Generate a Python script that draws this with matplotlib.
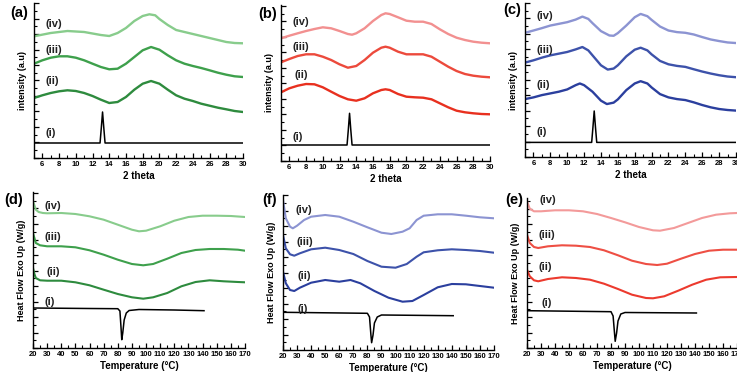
import matplotlib
matplotlib.use("Agg")
import matplotlib.pyplot as plt
from matplotlib.ticker import MultipleLocator

plt.rcParams['font.family'] = ['Liberation Sans', 'DejaVu Sans']
plt.rcParams['font.weight'] = 'bold'

# ---- XRD (a) ----
a_i_x = [5, 12.9, 13.05, 13.2, 13.35, 13.5, 30]
a_i_y = [1.5, 1.5, 3.0, 4.6, 3.0, 1.5, 1.5]
a_ii_x = [5, 6, 7, 8, 9, 10, 11, 12, 13, 14, 15, 16, 17, 18, 19, 20, 21, 22, 23, 24, 25, 26, 27, 28, 29, 30]
a_ii_y = [6.0, 6.27, 6.5, 6.67, 6.77, 6.7, 6.5, 6.2, 5.83, 5.5, 5.6, 6.1, 6.83, 7.43, 7.7, 7.43, 6.83, 6.27, 5.93, 5.7, 5.43, 5.23, 5.03, 4.87, 4.7, 4.6]
a_iii_x = [5, 6, 7, 8, 9, 10, 11, 12, 13, 14, 15, 16, 17, 18, 19, 20, 21, 22, 23, 24, 25, 26, 27, 28, 29, 30]
a_iii_y = [9.43, 9.77, 10.03, 10.17, 10.17, 10.03, 9.77, 9.43, 9.1, 8.87, 8.93, 9.43, 10.1, 10.77, 11.1, 10.83, 10.27, 9.77, 9.43, 9.2, 9.0, 8.77, 8.53, 8.33, 8.17, 8.1]
a_iv_x = [5, 7, 9, 11, 13, 14, 15, 16, 17, 18, 18.8, 19.5, 20, 21, 22, 23, 24, 25, 26, 27, 28, 29, 30]
a_iv_y = [12.17, 12.5, 12.7, 12.6, 12.3, 12.2, 12.5, 13.0, 13.7, 14.2, 14.37, 14.27, 13.9, 13.3, 12.8, 12.6, 12.4, 12.2, 12.0, 11.8, 11.6, 11.5, 11.47]

# ---- XRD (b) ----
b_i_x = [5, 12.9, 13.05, 13.2, 13.35, 13.5, 30]
b_i_y = [1.6, 1.6, 3.1, 4.77, 3.1, 1.6, 1.6]
b_ii_x = [5, 6, 7, 8, 9, 10, 11, 12, 13, 14, 15, 16, 17, 17.5, 18, 19, 20, 21, 22, 23, 24, 25, 26, 27, 28, 29, 30]
b_ii_y = [6.87, 7.27, 7.53, 7.7, 7.67, 7.37, 6.93, 6.5, 6.17, 6.03, 6.27, 6.77, 7.1, 7.17, 7.1, 6.7, 6.43, 6.37, 6.33, 6.17, 5.77, 5.37, 5.03, 4.87, 4.77, 4.7, 4.67]
b_iii_x = [5, 6, 7, 8, 9, 10, 11, 12, 13, 14, 15, 16, 17, 17.5, 18, 19, 20, 21, 22, 23, 24, 25, 26, 27, 28, 29, 30]
b_iii_y = [9.87, 10.2, 10.5, 10.67, 10.67, 10.43, 10.1, 9.67, 9.33, 9.5, 10.1, 10.83, 11.33, 11.43, 11.33, 10.93, 10.67, 10.67, 10.67, 10.43, 9.93, 9.43, 9.0, 8.7, 8.53, 8.43, 8.37]
b_iv_x = [5, 6, 7, 8, 9, 10, 11, 12, 13, 13.5, 14, 15, 16, 17, 17.5, 18, 19, 20, 21, 22, 23, 24, 25, 26, 27, 28, 29, 30]
b_iv_y = [12.27, 12.53, 12.77, 13.0, 13.2, 13.37, 13.27, 13.0, 12.7, 12.63, 12.77, 13.27, 14.0, 14.6, 14.77, 14.7, 14.37, 14.03, 13.93, 13.93, 13.7, 13.17, 12.7, 12.33, 12.1, 11.93, 11.83, 11.77]

# ---- XRD (c) ----
c_i_x = [5, 12.9, 13.05, 13.2, 13.35, 13.5, 30]
c_i_y = [1.47, 1.47, 3.0, 4.63, 3.0, 1.47, 1.47]
c_ii_x = [5, 6, 7, 8, 9, 10, 11, 11.5, 12, 13, 14, 14.7, 15.5, 16, 17, 18, 18.7, 19.5, 20, 21, 22, 23, 24, 25, 26, 27, 28, 29, 30]
c_ii_y = [5.83, 6.0, 6.23, 6.4, 6.57, 6.8, 7.23, 7.4, 7.23, 6.57, 5.67, 5.33, 5.47, 5.8, 6.73, 7.4, 7.63, 7.4, 7.0, 6.33, 6.0, 5.83, 5.73, 5.5, 5.23, 5.0, 4.83, 4.73, 4.67]
c_iii_x = [5, 6, 7, 8, 9, 10, 11, 11.8, 12.5, 13, 14, 14.8, 15.5, 16, 17, 18, 18.7, 19.5, 20, 21, 22, 23, 24, 25, 26, 27, 28, 29, 30]
c_iii_y = [9.5, 9.73, 10.0, 10.23, 10.4, 10.57, 10.83, 11.07, 10.73, 10.23, 9.23, 8.8, 8.9, 9.23, 10.13, 10.8, 11.0, 10.73, 10.33, 9.67, 9.33, 9.17, 9.07, 8.83, 8.6, 8.4, 8.23, 8.1, 8.03]
c_iv_x = [5, 6, 7, 8, 9, 10, 11, 11.8, 12.5, 13, 14, 15, 15.5, 16, 17, 18, 18.7, 19.5, 20, 21, 22, 23, 24, 25, 26, 27, 28, 29, 30]
c_iv_y = [12.5, 12.73, 12.97, 13.23, 13.4, 13.57, 13.83, 14.13, 13.9, 13.47, 12.67, 12.23, 12.2, 12.47, 13.23, 14.07, 14.4, 14.17, 13.8, 13.13, 12.73, 12.57, 12.5, 12.33, 12.07, 11.83, 11.67, 11.53, 11.47]

# ---- DSC (d) ----
d_i_x = [20, 60, 80, 81.5, 82.3, 82.8, 83.5, 84.5, 86, 88, 95, 120, 141]
d_i_y = [4.0, 3.95, 3.93, 3.7, 2.0, 0.83, 1.5, 2.8, 3.5, 3.75, 3.85, 3.8, 3.73]
d_ii_x = [20, 21, 22, 25, 30, 40, 50, 60, 70, 80, 90, 98, 105, 115, 125, 135, 145, 155, 165, 170]
d_ii_y = [8.0, 7.4, 7.0, 6.77, 6.73, 6.73, 6.57, 6.27, 5.83, 5.4, 5.07, 4.93, 5.07, 5.5, 6.17, 6.6, 6.77, 6.67, 6.6, 6.57]
d_iii_x = [20, 21, 22, 25, 30, 40, 50, 60, 70, 80, 90, 98, 105, 115, 125, 135, 145, 155, 165, 170]
d_iii_y = [11.5, 11.0, 10.5, 10.27, 10.17, 10.17, 10.07, 9.77, 9.33, 8.83, 8.4, 8.27, 8.4, 8.93, 9.5, 9.8, 9.9, 9.9, 9.83, 9.73]
d_iv_x = [20, 21, 22, 24, 27, 30, 40, 50, 60, 70, 80, 90, 95, 100, 110, 120, 130, 140, 150, 160, 170]
d_iv_y = [14.67, 14.27, 13.83, 13.6, 13.5, 13.47, 13.5, 13.4, 13.17, 12.83, 12.33, 11.83, 11.67, 11.73, 12.17, 12.73, 13.1, 13.23, 13.23, 13.2, 13.1]

# ---- DSC (f) ----
f_i_x = [20, 80, 81.5, 82.5, 83, 84, 85, 87, 90, 141]
f_i_y = [3.77, 3.67, 3.3, 1.5, 0.73, 1.5, 2.7, 3.3, 3.5, 3.43]
f_ii_x = [20, 22, 25, 28, 32, 40, 50, 60, 68, 75, 85, 95, 105, 112, 120, 130, 140, 150, 160, 170]
f_ii_y = [7.83, 6.67, 6.0, 5.9, 6.23, 6.73, 7.0, 6.83, 7.0, 6.67, 5.9, 5.23, 4.83, 4.9, 5.5, 6.27, 6.6, 6.57, 6.4, 6.23]
f_iii_x = [20, 22, 25, 28, 32, 40, 50, 60, 70, 80, 90, 100, 108, 115, 120, 130, 140, 150, 160, 170]
f_iii_y = [11.5, 10.17, 9.57, 9.43, 9.67, 10.07, 10.23, 10.0, 9.6, 8.9, 8.33, 8.23, 8.6, 9.33, 9.77, 9.97, 10.07, 10.0, 9.9, 9.73]
f_iv_x = [20, 22, 25, 27, 30, 35, 40, 50, 60, 70, 80, 90, 97, 105, 110, 115, 120, 130, 140, 150, 160, 170]
f_iv_y = [15.0, 13.17, 12.33, 12.17, 12.43, 13.0, 13.33, 13.5, 13.33, 12.83, 12.27, 11.73, 11.6, 11.83, 12.17, 13.0, 13.43, 13.57, 13.57, 13.43, 13.27, 13.17]

# ---- DSC (e) ----
e_i_x = [20, 80, 81.5, 82.5, 83, 84, 85, 87, 90, 141]
e_i_y = [3.73, 3.63, 3.2, 1.5, 0.67, 1.5, 2.7, 3.4, 3.55, 3.5]
e_ii_x = [20, 22, 25, 28, 35, 45, 55, 65, 75, 85, 95, 105, 110, 118, 128, 138, 148, 158, 170]
e_ii_y = [7.83, 7.17, 6.77, 6.67, 6.9, 7.07, 7.0, 6.83, 6.43, 5.9, 5.33, 5.0, 4.97, 5.17, 5.73, 6.33, 6.83, 7.07, 7.1]
e_iii_x = [20, 22, 25, 28, 35, 45, 55, 65, 75, 85, 95, 105, 113, 120, 130, 140, 150, 160, 170]
e_iii_y = [11.33, 10.5, 10.1, 10.0, 10.17, 10.27, 10.23, 10.1, 9.77, 9.27, 8.73, 8.4, 8.3, 8.43, 8.93, 9.4, 9.73, 9.83, 9.83]
e_iv_x = [20, 22, 25, 30, 40, 50, 60, 70, 80, 90, 100, 110, 115, 125, 135, 145, 155, 165, 170]
e_iv_y = [14.67, 13.93, 13.67, 13.67, 13.77, 13.77, 13.67, 13.4, 13.0, 12.57, 12.1, 11.77, 11.73, 12.0, 12.5, 13.0, 13.33, 13.47, 13.5]

curve_names = ['(i)', '(ii)', '(iii)', '(iv)']

W, H = 737, 372
fig = plt.figure(figsize=(W / 100, H / 100), dpi=100)


def make_ax(left, right, top, bottom):
    return fig.add_axes([left / W, (H - bottom) / H, (right - left) / W, (bottom - top) / H])


def style_ax(ax, xlim, xmaj, xmin, ylabel, xlabel, ytop):
    ax.set_xlim(*xlim)
    ax.set_ylim(0, ytop)
    for s in ['top', 'right']:
        ax.spines[s].set_visible(False)
    for s in ['left', 'bottom']:
        ax.spines[s].set_linewidth(1.0)
    ax.xaxis.set_major_locator(MultipleLocator(xmaj))
    ax.xaxis.set_minor_locator(MultipleLocator(xmin))
    ax.yaxis.set_major_locator(MultipleLocator(1.55))
    ax.yaxis.set_minor_locator(MultipleLocator(0.775))
    ax.tick_params(axis='both', which='major', direction='in', length=3.5, width=0.9, labelsize=5.5, pad=2)
    ax.tick_params(axis='both', which='minor', direction='in', length=2, width=0.8)
    ax.tick_params(axis='y', which='both', labelleft=False)
    for lab in ax.get_xticklabels():
        lab.set_fontweight('bold')
    ax.set_ylabel(ylabel, fontsize=6.5, fontweight='bold', labelpad=5)
    ax.set_xlabel(xlabel, fontsize=7, fontweight='bold', labelpad=2)


def draw(ax, curves, colors, lw, label_pos):
    for (x, y), c, nm, (lx, ly) in zip(curves, colors, curve_names, label_pos):
        ax.plot(x, y, color=c, lw=lw if nm != '(i)' else 1.1, solid_joinstyle='round')
        ax.text(lx, ly, nm, fontsize=8, fontweight='bold', ha='left', va='center', color='#222222')


greens = ['black', '#2e8b3e', '#3ea04c', '#88cc8c']
reds = ['black', '#e8301f', '#ec4a3c', '#f29090']
blues = ['black', '#2b3f9e', '#3d52aa', '#8c94d2']
pinks = ['black', '#ec3a2e', '#ee4f44', '#f39a9a']

# top row: XRD
ax = make_ax(34, 243, 3, 158)
draw(ax, [(a_i_x, a_i_y), (a_ii_x, a_ii_y), (a_iii_x, a_iii_y), (a_iv_x, a_iv_y)], greens, 1.7,
     [(6.4, 2.5), (6.4, 7.65), (6.4, 10.77), (6.4, 13.43)])
style_ax(ax, (5, 30), 2, 1, 'intensity (a.u)', '2 theta', 15.5)
ax.set_xticks(range(6, 31, 2))

ax = make_ax(281, 490, 5, 161)
draw(ax, [(b_i_x, b_i_y), (b_ii_x, b_ii_y), (b_iii_x, b_iii_y), (b_iv_x, b_iv_y)], reds, 1.7,
     [(6.4, 2.43), (6.6, 8.6), (6.4, 11.43), (6.4, 13.93)])
style_ax(ax, (5, 30), 2, 1, 'intensity (a.u)', '2 theta', 15.6)
ax.set_xticks(range(6, 31, 2))

ax = make_ax(525, 736, 3, 157)
draw(ax, [(c_i_x, c_i_y), (c_ii_x, c_ii_y), (c_iii_x, c_iii_y), (c_iv_x, c_iv_y)], blues, 1.7,
     [(6.4, 2.47), (6.4, 7.23), (6.4, 10.8), (6.4, 14.23)])
style_ax(ax, (5, 30), 2, 1, 'intensity (a.u)', '2 theta', 15.5)
ax.set_xticks(range(6, 31, 2))

# bottom row: DSC
ax = make_ax(33, 245, 192, 348)
draw(ax, [(d_i_x, d_i_y), (d_ii_x, d_ii_y), (d_iii_x, d_iii_y), (d_iv_x, d_iv_y)], greens, 1.5,
     [(28.3, 4.6), (29.5, 7.6), (28.3, 11.07), (28.3, 14.17)])
style_ax(ax, (20, 170), 10, 5, 'Heat Flow Exo Up (W/g)', 'Temperature (\u00b0C)', 15.6)

ax = make_ax(283, 494, 195, 350)
draw(ax, [(f_i_x, f_i_y), (f_ii_x, f_ii_y), (f_iii_x, f_iii_y), (f_iv_x, f_iv_y)], blues, 1.5,
     [(30.5, 4.1), (30.5, 7.43), (29.5, 10.83), (28.8, 14.0)])
style_ax(ax, (20, 170), 10, 5, 'Heat Flow Exo Up (W/g)', 'Temperature (\u00b0C)', 15.5)

ax = make_ax(527, 737, 198, 348)
draw(ax, [(e_i_x, e_i_y), (e_ii_x, e_ii_y), (e_iii_x, e_iii_y), (e_iv_x, e_iv_y)], pinks, 1.5,
     [(30, 4.5), (28.5, 8.07), (28.5, 11.33), (29, 14.83)])
style_ax(ax, (20, 170), 10, 5, 'Heat Flow Exo Up (W/g)', 'Temperature (\u00b0C)', 15.0)

# panel letters
for lbl, px, py in [('(a)', 10, 13), ('(b)', 258, 14), ('(c)', 503, 10),
                    ('(d)', 4, 200), ('(f)', 262, 200), ('(e)', 505, 200)]:
    fig.text(px / W, 1 - py / H, lbl, fontsize=10.5, fontweight='bold', ha='left', va='center')

fig.savefig('out.png', dpi=100)
